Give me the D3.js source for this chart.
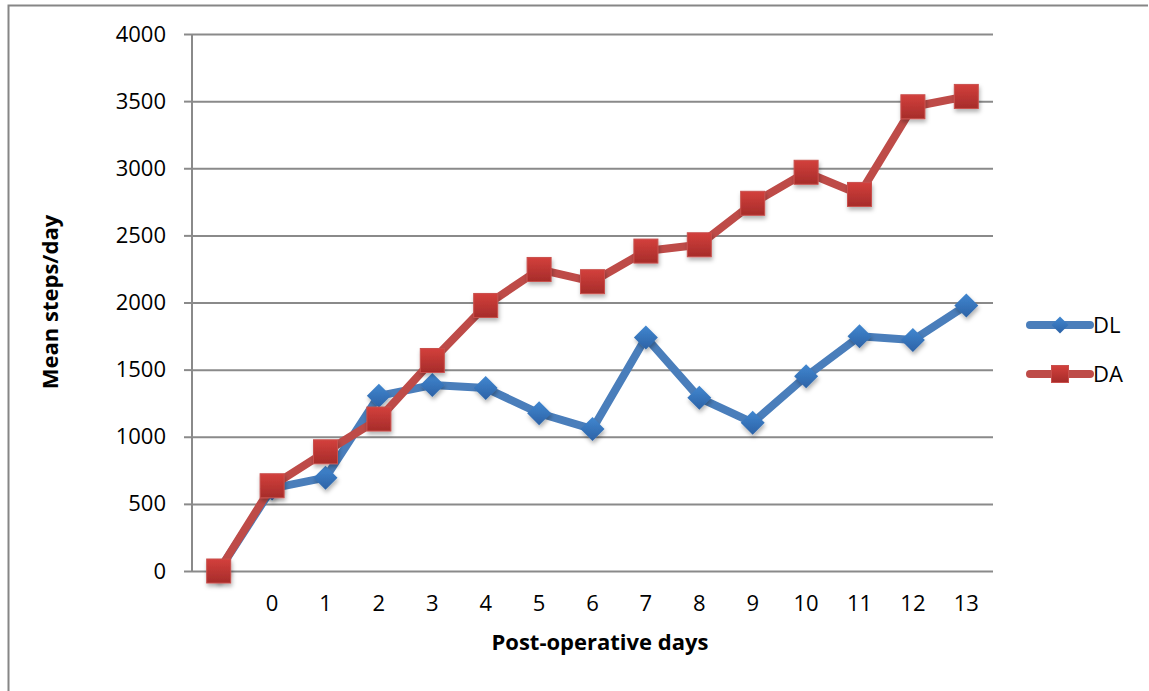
<!DOCTYPE html>
<html>
<head>
<meta charset="utf-8">
<script src="https://cdn.jsdelivr.net/npm/d3@7"></script>
<style>
  body { margin: 0; background: #fff; }
  svg { display: block; }
</style>
</head>
<body>
<script>
// --- data ---
var days = ["", "0", "1", "2", "3", "4", "5", "6", "7", "8", "9", "10", "11", "12", "13"];
var dl = [0, 615, 695, 1305, 1385, 1363, 1175, 1057, 1740, 1290, 1105, 1450, 1748, 1720, 1978];
var da = [0, 635, 888, 1132, 1568, 1978, 2246, 2155, 2383, 2430, 2739, 2970, 2805, 3458, 3535];
var yTicks = [0, 500, 1000, 1500, 2000, 2500, 3000, 3500, 4000];
var seriesNames = ["DL", "DA"];

// --- look ---
var blue_line = "#4a7ebb", blue_top = "#4187d0", blue_bot = "#2c62a6",
    red_line = "#be4b48", red_top = "#d3403c", red_bot = "#a62c2a",
    grid_col = "#8a8a8a",
    font = '"Open Sans", sans-serif';

var W = 1149, H = 691;
var plot = {left: 192, right: 993, top: 34, bottom: 571};

var svg = d3.select("body").append("svg")
    .attr("width", W)
    .attr("height", H);

var defs = svg.append("defs");

function grad(id, c1, c2) {
    var g = defs.append("linearGradient")
        .attr("id", id)
        .attr("x1", 0).attr("y1", 0).attr("x2", 0).attr("y2", 1);
    g.append("stop").attr("offset", "0%").attr("stop-color", c1);
    g.append("stop").attr("offset", "100%").attr("stop-color", c2);
}
grad("gRed", red_top, red_bot);
grad("gBlue", blue_top, blue_bot);

var shadow = defs.append("filter")
    .attr("id", "shadow")
    .attr("x", "-50%").attr("y", "-50%")
    .attr("width", "200%").attr("height", "200%");
shadow.append("feDropShadow")
    .attr("dx", 1).attr("dy", 3)
    .attr("stdDeviation", 2)
    .attr("flood-color", "#000")
    .attr("flood-opacity", 0.3);

// --- chart frame (only left and top edges show) ---
svg.append("path")
    .attr("d", "M8.5," + H + "V5.5H1148")
    .attr("fill", "none")
    .attr("stroke", "#868686")
    .attr("stroke-width", 2);

// --- scales ---
var x = d3.scaleBand()
    .domain(days)
    .range([plot.left, plot.right])
    .padding(0);

var y = d3.scaleLinear()
    .domain([0, 4000])
    .range([plot.bottom, plot.top]);

var cx = function(d, i) { return x(days[i]) + x.bandwidth() / 2; };

// --- gridlines ---
svg.append("g")
    .attr("transform", "translate(" + plot.left + ",0)")
    .call(d3.axisLeft(y).tickValues(yTicks).tickSize(-(plot.right - plot.left)).tickFormat(""))
    .call(function(g) { g.select(".domain").remove(); })
    .selectAll("line")
    .attr("stroke", grid_col)
    .attr("stroke-width", 2);

// --- y axis ---
var yAxis = svg.append("g")
    .attr("transform", "translate(" + plot.left + ",0)")
    .call(d3.axisLeft(y).tickValues(yTicks).tickSize(8).tickPadding(18).tickFormat(d3.format("d")));
yAxis.select(".domain")
    .attr("stroke", grid_col)
    .attr("stroke-width", 2)
    .attr("d", "M0," + plot.top + "V" + plot.bottom);
yAxis.selectAll("line").attr("stroke", grid_col).attr("stroke-width", 2);
yAxis.selectAll("text")
    .attr("font-family", font)
    .attr("font-size", "22px")
    .attr("fill", "#000");

// --- x axis ---
var xAxis = svg.append("g")
    .attr("transform", "translate(0," + plot.bottom + ")")
    .call(d3.axisBottom(x).tickSize(0).tickPadding(24));
xAxis.select(".domain").remove();
xAxis.selectAll("text")
    .attr("font-family", font)
    .attr("font-size", "22px")
    .attr("fill", "#000");

// --- axis titles ---
svg.append("text")
    .text("Post-operative days")
    .attr("x", 600)
    .attr("y", 650)
    .attr("text-anchor", "middle")
    .attr("font-family", font)
    .attr("font-size", "22px")
    .attr("font-weight", 700)
    .attr("fill", "#000");

svg.append("text")
    .text("Mean steps/day")
    .attr("transform", "translate(58,302) rotate(-90)")
    .attr("text-anchor", "middle")
    .attr("font-family", font)
    .attr("font-size", "22px")
    .attr("font-weight", 700)
    .attr("fill", "#000");

// --- series ---
var line = d3.line()
    .x(cx)
    .y(function(d) { return y(d); });

function diamond(sel, r) {
    sel.attr("d", "M0," + (-r) + "L" + r + ",0L0," + r + "L" + (-r) + ",0Z");
}

// DL
svg.append("path")
    .datum(dl)
    .attr("d", line)
    .attr("fill", "none")
    .attr("stroke", blue_line)
    .attr("stroke-width", 8)
    .attr("stroke-linejoin", "round");

svg.append("g").selectAll("path")
    .data(dl)
    .join("path")
    .attr("transform", function(d, i) { return "translate(" + cx(d, i) + "," + y(d) + ")"; })
    .call(diamond, 12)
    .attr("fill", "url(#gBlue)")
    .attr("filter", "url(#shadow)");

// DA
svg.append("path")
    .datum(da)
    .attr("d", line)
    .attr("fill", "none")
    .attr("stroke", red_line)
    .attr("stroke-width", 8)
    .attr("stroke-linejoin", "round");

var sq = 24;
svg.append("g").selectAll("rect")
    .data(da)
    .join("rect")
    .attr("x", function(d, i) { return cx(d, i) - sq / 2; })
    .attr("y", function(d) { return y(d) - sq / 2; })
    .attr("width", sq)
    .attr("height", sq)
    .attr("fill", "url(#gRed)")
    .attr("stroke", "#c9504d")
    .attr("stroke-width", 1)
    .attr("filter", "url(#shadow)");

// --- legend ---
var leg = svg.append("g").attr("transform", "translate(1030,325)");
var legCols = [blue_line, red_line];

seriesNames.forEach(function(name, i) {
    var g = leg.append("g").attr("transform", "translate(0," + (i * 49) + ")");
    g.append("line")
        .attr("x1", 0).attr("x2", 60)
        .attr("y1", 0).attr("y2", 0)
        .attr("stroke", legCols[i])
        .attr("stroke-width", 8)
        .attr("stroke-linecap", "round");
    if (i == 0) {
        g.append("path")
            .attr("transform", "translate(30,0)")
            .call(diamond, 8.5)
            .attr("fill", "url(#gBlue)");
    } else {
        g.append("rect")
            .attr("x", 21.5).attr("y", -8.5)
            .attr("width", 17).attr("height", 17)
            .attr("fill", "url(#gRed)")
            .attr("stroke", "#c9504d");
    }
    g.append("text")
        .text(name)
        .attr("x", 63)
        .attr("y", 0)
        .attr("dy", "0.36em")
        .attr("font-family", font)
        .attr("font-size", "22px")
        .attr("fill", "#000");
});
</script>
</body>
</html>
